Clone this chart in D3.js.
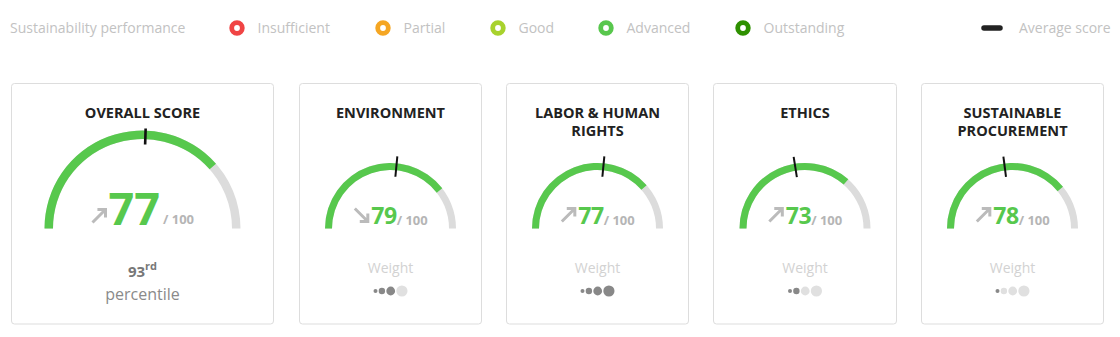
<!DOCTYPE html>
<html>
<head>
<meta charset="utf-8">
<script src="https://cdn.jsdelivr.net/npm/d3@7/dist/d3.min.js"></script>
<style>
  html, body { margin: 0; padding: 0; background: #fff; }
  svg { display: block; font-family: "Open Sans", "Noto Sans", sans-serif; }
</style>
</head>
<body>
<svg id="chart" width="1120" height="337"></svg>
<script>
// Performance levels shown in the legend
const levelNames = ["Insufficient", "Partial", "Good", "Advanced", "Outstanding"];
const levelColors = ["#f04444", "#f5a623", "#a8d22d", "#58c74d", "#2e9000"];

// Score cards
const sections = ["OVERALL SCORE", "ENVIRONMENT", "LABOR & HUMAN RIGHTS", "ETHICS", "SUSTAINABLE PROCUREMENT"];
const titleLines = [["OVERALL SCORE"], ["ENVIRONMENT"], ["LABOR & HUMAN", "RIGHTS"], ["ETHICS"], ["SUSTAINABLE", "PROCUREMENT"]];
const scores = [77, 79, 77, 73, 78];
const averageScores = [51, 53, 53, 45, 46];
const trends = ["up", "down", "up", "up", "up"];
const weights = [null, 3, 4, 2, 1];
const weightMax = 4;
const percentile = 93;
const percentileSuffix = "rd";
const scoreMax = 100;

const svg = d3.select("#chart");
const green = "#57c84d";
const track = "#dcdcdc";

// ---- Legend ----
const legend = svg.append("g");
legend.append("text").attr("x", 10).attr("y", 33)
  .attr("font-size", 14).attr("fill", "#c2c2c2").text("Sustainability performance");
const legendX = [237, 383, 498, 606, 743];
levelNames.forEach((name, i) => {
  legend.append("circle").attr("cx", legendX[i]).attr("cy", 28).attr("r", 5.3)
    .attr("fill", "#fff").attr("stroke", levelColors[i]).attr("stroke-width", 4.8);
  legend.append("text").attr("x", legendX[i] + 20.5).attr("y", 33)
    .attr("font-size", 14).attr("fill", "#c2c2c2").text(name);
});
legend.append("line").attr("x1", 984).attr("x2", 1000).attr("y1", 28).attr("y2", 28)
  .attr("stroke", "#222").attr("stroke-width", 5.5).attr("stroke-linecap", "round");
legend.append("text").attr("x", 1019).attr("y", 33)
  .attr("font-size", 14).attr("fill", "#c2c2c2").text("Average score");

// ---- Cards ----
const cardTop = 83.5, cardBottom = 324;
const cardX = [11.5, 299.5, 506.5, 713.5, 921.5];
const cardW = [262, 182, 182, 183, 182];

const angle = d3.scaleLinear().domain([0, scoreMax]).range([-Math.PI / 2, Math.PI / 2]);

function arrowPath(dir, s) {
  // diagonal arrow inside an s x s box, origin at the box's top-left
  const h = s * 0.62;
  if (dir === "up") {
    return `M0,${s} L${s},0 M${s - h},0 L${s},0 L${s},${h}`;
  }
  return `M0,0 L${s},${s} M${s - h},${s} L${s},${s} L${s},${s - h}`;
}

sections.forEach((name, i) => {
  const big = i === 0;
  const g = svg.append("g");
  const x0 = cardX[i], w = cardW[i];
  const cx = x0 + w / 2;
  g.append("rect").attr("x", x0).attr("y", cardTop).attr("width", w).attr("height", cardBottom - cardTop)
    .attr("rx", 3).attr("fill", "#fff").attr("stroke", "#dddddd").attr("stroke-width", 1);

  // title
  titleLines[i].forEach((line, j) => {
    g.append("text").attr("x", cx).attr("y", 117.5 + j * 18.5).attr("text-anchor", "middle")
      .attr("font-size", 14.5).attr("font-weight", 700).attr("fill", "#222").text(line);
  });

  // gauge
  const cy = 228.5;
  const rOut = big ? 98 : 65.5;
  const thick = big ? 8.5 : 7;
  const arc = d3.arc().innerRadius(rOut - thick).outerRadius(rOut);
  g.append("path").attr("transform", `translate(${cx},${cy})`)
    .attr("d", arc({ startAngle: angle(0), endAngle: angle(scoreMax) })).attr("fill", track);
  g.append("path").attr("transform", `translate(${cx},${cy})`)
    .attr("d", arc({ startAngle: angle(0), endAngle: angle(scores[i]) })).attr("fill", green);

  // average marker
  const a = angle(averageScores[i]);
  const r1 = big ? rOut - 14 : rOut - 13.5, r2 = big ? rOut + 2 : rOut + 7;
  g.append("line")
    .attr("x1", cx + r1 * Math.sin(a)).attr("y1", cy - r1 * Math.cos(a))
    .attr("x2", cx + r2 * Math.sin(a)).attr("y2", cy - r2 * Math.cos(a))
    .attr("stroke", "#111").attr("stroke-width", big ? 2.6 : 2);

  // score readout: trend arrow, value, "/ 100"
  const sg = g.append("g");
  const aS = 13;
  const baseY = big ? 224.5 : 224;
  sg.append("path").attr("d", arrowPath(trends[i], aS))
    .attr("transform", `translate(1.5,${big ? 209.5 : 208.5})`)
    .attr("fill", "none").attr("stroke", "#bbbbbb").attr("stroke-width", 3)
    .attr("stroke-linecap", "butt").attr("stroke-linejoin", "miter");
  const numX = aS + 1.5 + (big ? 3 : 3.5);
  const num = sg.append("text").attr("x", numX).attr("y", baseY)
    .attr("font-size", big ? 45 : 23).attr("font-weight", 700).attr("fill", green)
    .attr("letter-spacing", big ? 0 : -0.5).text(scores[i]);
  const numW = num.node().getComputedTextLength();
  const ofX = numX + numW + (big ? 3 : 0);
  const of = sg.append("text").attr("x", ofX).attr("y", big ? 223.5 : 224.5)
    .attr("font-size", 13).attr("font-weight", 700).attr("fill", "#b5b5b5").text(`/ ${scoreMax}`);
  const totalW = ofX + of.node().getComputedTextLength();
  sg.attr("transform", `translate(${cx - totalW / 2},0)`);

  if (big) {
    const pt = g.append("text").attr("x", cx).attr("y", 277).attr("text-anchor", "middle")
      .attr("fill", "#777").attr("font-weight", 700);
    pt.append("tspan").attr("font-size", 15).text(percentile);
    pt.append("tspan").attr("font-size", 11).attr("dy", -7).text(percentileSuffix);
    g.append("text").attr("x", cx).attr("y", 299.5).attr("text-anchor", "middle")
      .attr("font-size", 16).attr("fill", "#8a8a8a").text("percentile");
  } else {
    g.append("text").attr("x", cx).attr("y", 272.5).attr("text-anchor", "middle")
      .attr("font-size", 14).attr("fill", "#d2d2d2").text("Weight");
    const radii = d3.range(weightMax).map(k => 2 + k * 1.2);
    const gap = 1.2;
    const total = d3.sum(radii) * 2 + gap * (weightMax - 1);
    let px = cx - total / 2;
    radii.forEach((r, k) => {
      g.append("circle").attr("cx", px + r).attr("cy", 291).attr("r", r)
        .attr("fill", k < weights[i] ? "#888888" : "#e0e0e0");
      px += 2 * r + gap;
    });
  }
});
</script>
</body>
</html>
